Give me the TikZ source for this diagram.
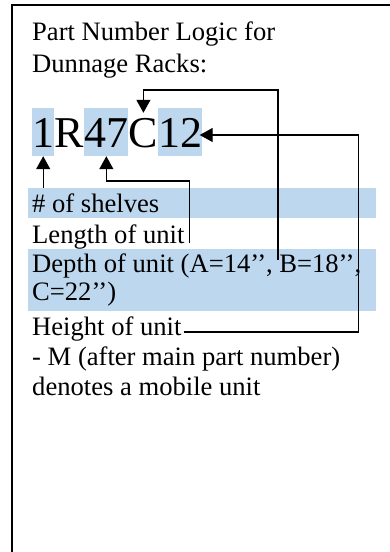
\documentclass[tikz,border=0pt]{standalone}
\usepackage{fontspec}
\setmainfont{Liberation Serif}
\usetikzlibrary{arrows.meta,positioning}
\definecolor{hlblue}{HTML}{BDD7EE}
\begin{document}
\begin{tikzpicture}[x=1pt,y=-1pt,line join=miter,>={Triangle[length=13pt,width=14pt]},
		txt/.style={anchor=base west,inner sep=0pt,font=\fontsize{26.6}{30}\selectfont},
		big/.style={inner sep=0pt,text height=39pt,text depth=9pt,font=\fontsize{44}{48}\selectfont},
		lnk/.style={->,line width=1.3pt}]
	\useasboundingbox (0,0) rectangle (390,552);
	\draw[line width=1.6pt] (12,560) -- (12,5) -- (400,5);
	% highlighted rows
	\fill[hlblue] (28,188) rectangle (376,218);
	\fill[hlblue] (28,249) rectangle (376,311);
	\node[txt] (title1) at (32,40) {Part Number Logic for};
	\node[txt] (title2) at (32,72) {Dunnage Racks:};
	% part number
	\node[big,fill=hlblue,anchor=base west] (n1) at (32,147) {1};
	\node[big,right=0pt of n1] (nR) {R};
	\node[big,fill=hlblue,right=0pt of nR] (n47) {47};
	\node[big,right=0pt of n47] (nC) {C};
	\node[big,fill=hlblue,right=0pt of nC] (n12) {12};
	% legend
	\node[txt] (shelves) at (32,212) {\# of shelves};
	\node[txt] (len) at (32,243) {Length of unit};
	\node[txt] (depth) at (32,272) {Depth of unit (A=14’’, B=18’’,};
	\node[txt] (depth2) at (32,300) {C=22’’)};
	\node[txt] (height) at (32,335) {Height of unit};
	\node[txt] (mob) at (32,365) {- M (after main part number)};
	\node[txt] (mob2) at (32,395) {denotes a mobile unit};
	\coordinate (dstart) at (278,260);
	% connectors
	\draw[lnk] (n1.south) ++(0,32) -- (n1.south);
	\draw[lnk] ([xshift=5pt]len.base east) -- ++(0,-62) -| (n47.south);
	\draw[lnk] (dstart) -- ++(0,-170) -| ([yshift=-5pt]nC.north);
	\draw[lnk] ([xshift=2pt,yshift=3pt]height.base east) -- ++(175,0) |- ([xshift=-3pt,yshift=-3pt]n12.east);
\end{tikzpicture}
\end{document}
